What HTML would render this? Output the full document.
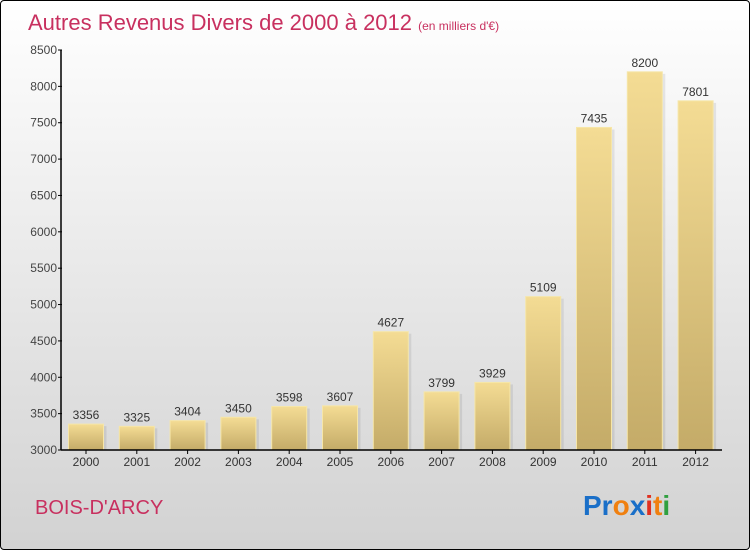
<!DOCTYPE html>
<html><head><meta charset="utf-8"><style>
body{margin:0;width:750px;height:550px;overflow:hidden;font-family:"Liberation Sans",sans-serif}
#c{position:absolute;left:0;top:0;width:748px;height:548px;border:1px solid #000;border-radius:4px;background:linear-gradient(#fff,#d2d2d2)}
</style></head><body>
<div id="c">
<svg width="750" height="550" style="position:absolute;left:-1px;top:-1px" id="svg">
<defs><linearGradient id="bg" x1="0" y1="0" x2="0" y2="1"><stop offset="0" stop-color="#f4dc94"/><stop offset="1" stop-color="#c4ab68"/></linearGradient></defs>
<text x="28" y="30" font-size="22" fill="#c8305f">Autres Revenus Divers de 2000 à 2012 <tspan font-size="12">(en milliers d'€)</tspan></text>
<text x="35" y="514" font-size="20" fill="#c8305f">BOIS-D'ARCY</text>
<text x="583" y="515" font-size="28" font-weight="bold"><tspan fill="#1a6fc8">Pr</tspan><tspan fill="#f08010">o</tspan><tspan fill="#1a6fc8">x</tspan><tspan fill="#e03020">i</tspan><tspan fill="#f08010">t</tspan><tspan fill="#30a040">i</tspan></text>
<g id="g"></g>
</svg></div>
<script>
const years=["2000","2001","2002","2003","2004","2005","2006","2007","2008","2009","2010","2011","2012"];
const values=[3356,3325,3404,3450,3598,3607,4627,3799,3929,5109,7435,8200,7801];
const ticks=[3000,3500,4000,4500,5000,5500,6000,6500,7000,7500,8000,8500];
const NS="http://www.w3.org/2000/svg",g=document.getElementById('g');
const x0=61,bw=50.8,y=v=>450-(v-3000)*(400/5500);
function mk(t,a,txt){const e=document.createElementNS(NS,t);for(const k in a)e.setAttribute(k,a[k]);if(txt!=null)e.textContent=txt;g.appendChild(e);return e;}
years.forEach((yr,i)=>{
 const bx=x0+i*bw+7.5,by=y(values[i]);
 const s=mk('rect',{x:bx+3,y:by+2,width:35,height:450-by-2,fill:'#000',opacity:0.08});
 
 
 const r=mk('rect',{x:bx,y:by,width:35,height:450-by,fill:'url(#bg)',stroke:'#f6e6a8','stroke-width':1});
 
 
 const l=mk('text',{x:bx+17.5,y:by-5,'text-anchor':'middle','font-size':12,fill:'#333'},values[i]);
 
 
 const xl=mk('text',{x:bx+17.5,y:466,'text-anchor':'middle','font-size':12,fill:'#333'},yr);
 
 
 const tk=mk('line',{x1:bx+17.5,x2:bx+17.5,y1:450,y2:454,stroke:'#000'});
 
 
});
ticks.forEach(t=>{
 const tl=mk('text',{x:57,y:y(t)+4,'text-anchor':'end','font-size':12,fill:'#444'},t);
 
 
 const tm=mk('line',{x1:58,x2:62,y1:y(t),y2:y(t),stroke:'#000'});
 
 
});
const ya=mk('line',{x1:61,x2:61,y1:50,y2:450,stroke:'#000','stroke-width':1.5});


const xa=mk('line',{x1:61,x2:722,y1:450,y2:450,stroke:'#000','stroke-width':1.5});


</script>
</body></html>
